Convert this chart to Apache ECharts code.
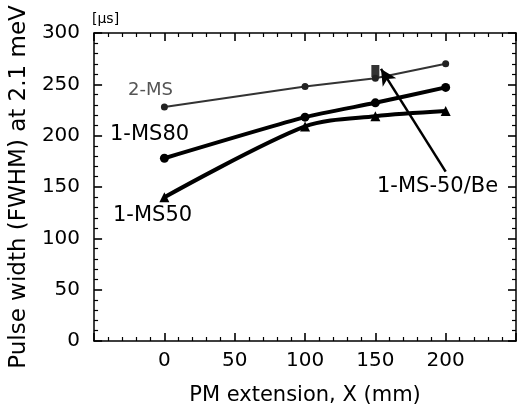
<!DOCTYPE html>
<html>
<head>
<meta charset="utf-8">
<script src="https://cdn.jsdelivr.net/npm/echarts@6/dist/echarts.min.js"></script>
<style>
  html, body { margin: 0; padding: 0; background: #fff; }
  #chart { width: 519px; height: 411px; }
</style>
</head>
<body>
<div id="chart"></div>
<script>
// PM extension (mm)
const xs = [0, 100, 150, 200];
// pulse width (FWHM) at 2.1 meV, µs
const ms2 = [228, 248, 256, 270];
const ms80 = [178, 218, 232, 247];
const ms50 = [140, 209, 219, 224];
const beX = [150];
const beY = [263];
// arrow from label to the Be point
const arrowFrom = [200, 165];
const arrowTo = [154, 265];

const pairs = (a, b) => a.map((v, i) => [v, b[i]]);
const font = "DejaVu Sans";

// each axis gets its own style objects
const axisBase = (extra) => Object.assign({
  type: "value",
  axisLine: { show: true, onZero: false, lineStyle: { color: "#000", width: 1.5 } },
  axisTick: { show: true, inside: true, length: 8, lineStyle: { color: "#000", width: 1.6 } },
  minorTick: { show: true, splitNumber: 5, length: 4, lineStyle: { color: "#000", width: 1.2 } },
  splitLine: { show: false },
}, extra);

const chart = echarts.init(document.getElementById("chart"));
chart.setOption({
  animation: false,
  backgroundColor: "#fff",
  textStyle: { fontFamily: font },
  grid: { left: 94, right: 2, top: 33, bottom: 66, containLabel: false },
  xAxis: [
    axisBase({
      position: "bottom",
      min: -50, max: 250, interval: 50,
      name: "PM extension, X (mm)",
      nameLocation: "middle",
      nameGap: 44,
      nameTextStyle: { fontSize: 21, color: "#000", fontFamily: font },
      axisLabel: {
        fontSize: 20, color: "#000", margin: 10, fontFamily: font,
        formatter: (v) => (v < 0 || v > 200 ? "" : v),
      },
    }),
    axisBase({
      position: "top",
      min: -50, max: 250, interval: 50,
      axisLabel: { show: false },
    }),
  ],
  yAxis: [
    axisBase({
      position: "left",
      min: 0, max: 300, interval: 50,
      name: "Pulse width (FWHM) at 2.1 meV",
      nameLocation: "middle",
      nameGap: 62,
      nameTextStyle: { fontSize: 23, color: "#000", fontFamily: font },
      axisLabel: { fontSize: 20, color: "#000", margin: 14, fontFamily: font },
    }),
    axisBase({
      position: "right",
      min: 0, max: 300, interval: 50,
      axisLabel: { show: false },
    }),
  ],
  series: [
    {
      name: "2-MS",
      type: "line",
      data: pairs(xs, ms2),
      symbol: "circle",
      symbolSize: 7,
      lineStyle: { color: "#333", width: 2 },
      itemStyle: { color: "#222" },
    },
    {
      name: "1-MS80",
      type: "line",
      data: pairs(xs, ms80),
      smooth: 0.2,
      symbol: "circle",
      symbolSize: 9,
      lineStyle: { color: "#000", width: 4 },
      itemStyle: { color: "#000" },
    },
    {
      name: "1-MS50",
      type: "line",
      data: pairs(xs, ms50),
      smooth: 0.3,
      symbol: "triangle",
      symbolSize: 10,
      lineStyle: { color: "#000", width: 4 },
      itemStyle: { color: "#000" },
    },
    {
      name: "1-MS-50/Be",
      type: "scatter",
      data: pairs(beX, beY),
      symbol: "rect",
      symbolSize: [8, 12],
      itemStyle: { color: "#000" },
      markLine: {
        silent: true,
        symbol: ["none", "arrow"],
        symbolSize: [12, 16],
        label: { show: false },
        lineStyle: { color: "#000", width: 2.5, type: "solid" },
        data: [[{ coord: arrowFrom }, { coord: arrowTo }]],
      },
    },
  ],
  graphic: [
    { type: "text", left: 92, top: 12, style: { text: "[µs]", fontSize: 14, fill: "#000", fontFamily: font } },
    { type: "text", left: 128, top: 81, style: { text: "2-MS", fontSize: 18, fill: "#555", fontFamily: font } },
    { type: "text", left: 110, top: 124, style: { text: "1-MS80", fontSize: 21, fill: "#000", fontFamily: font } },
    { type: "text", left: 113, top: 205, style: { text: "1-MS50", fontSize: 21, fill: "#000", fontFamily: font } },
    { type: "text", left: 377, top: 176, style: { text: "1-MS-50/Be", fontSize: 21, fill: "#000", fontFamily: font } },
  ],
});
</script>
</body>
</html>
